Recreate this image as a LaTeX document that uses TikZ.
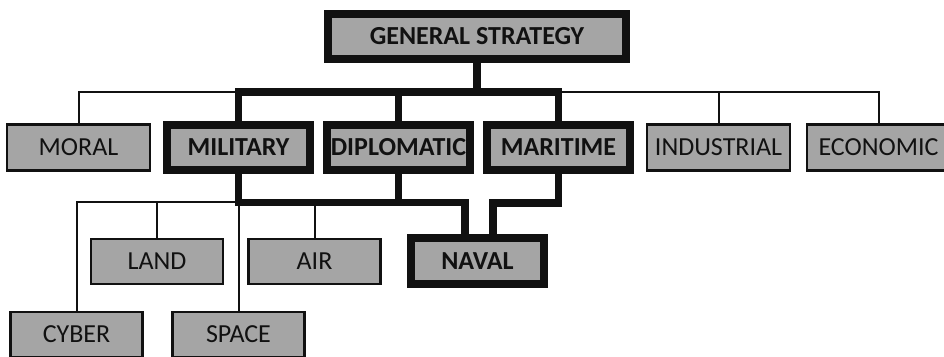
\documentclass[tikz,border=0pt]{standalone}
\usepackage{fontspec}
\setmainfont{Carlito}
\usetikzlibrary{positioning}
\definecolor{BoxGray}{HTML}{A5A5A5}
\definecolor{LineBlack}{HTML}{111111}

\begin{document}
\begin{tikzpicture}[x=0.5pt,y=-0.5pt,
    plainbox/.style={draw=LineBlack,line width=1.25pt,fill=BoxGray,
      outer sep=0pt,inner sep=1pt,minimum width=71.5pt,minimum height=23pt,
      text=LineBlack,font=\fontsize{13}{15}\selectfont},
    boldbox/.style={plainbox,line width=4pt,minimum height=22.5pt,
      font=\fontsize{13}{15}\selectfont\bfseries},
    lowbox/.style={plainbox,minimum width=66pt,minimum height=22.5pt},
    thinlink/.style={draw=LineBlack,line width=1pt},
    boldlink/.style={draw=LineBlack,line width=3.75pt}
  ]
    \clip (0,0) rectangle (944,357);
    \node[boldbox,minimum width=149pt] (gs) at (477,36.5) {GENERAL STRATEGY};
    \node[plainbox] (mor) at (78.5,147.5) {MORAL};
    \node[boldbox,right=8.5pt of mor] (mil) {MILITARY};
    \node[boldbox,right=8.5pt of mil] (dip) {DIPLOMATIC};
    \node[boldbox,right=8.5pt of dip] (mar) {MARITIME};
    \node[plainbox,right=8.5pt of mar] (ind) {INDUSTRIAL};
    \node[plainbox,right=8.5pt of ind] (eco) {ECONOMIC};
    \node[lowbox] (lnd) at (157,261.5) {LAND};
    \node[lowbox] (air) at (314.5,261.5) {AIR};
    \node[boldbox,minimum width=66.5pt,minimum height=23pt] (nav) at (477.5,261) {NAVAL};
    \node[lowbox] (cyb) at (76.5,334.5) {CYBER};
    \node[lowbox] (spa) at (238.5,334.5) {SPACE};
    % junctions
    \coordinate (hub) at (477,92);
    \coordinate (lowhub) at (mil.south |- 0,202.5);
    \coordinate (navL) at (465,202.5);
    \coordinate (navR) at (493,203);
    % thin links
    \draw[thinlink] (mor.north) |- (hub) -| (eco.north);
    \draw[thinlink] (ind.north) -- (ind.north |- hub);
    \draw[thinlink] (cyb.north) |- (lowhub) -- (spa.north);
    \draw[thinlink] (lnd.north) -- (lnd.north |- lowhub);
    \draw[thinlink] (air.north) -- (air.north |- lowhub);
    % bold links
    \draw[boldlink] (gs.south) -- (gs.south |- hub);
    \draw[boldlink] (mil.north) |- (hub) -| (mar.north);
    \draw[boldlink] (dip.north) -- (dip.north |- hub);
    \draw[boldlink] (mil.south) |- (navL) -- (navL |- nav.north);
    \draw[boldlink] (dip.south) -- (dip.south |- navL);
    \draw[boldlink] (mar.south) |- (navR) -- (navR |- nav.north);
\end{tikzpicture}
\end{document}
